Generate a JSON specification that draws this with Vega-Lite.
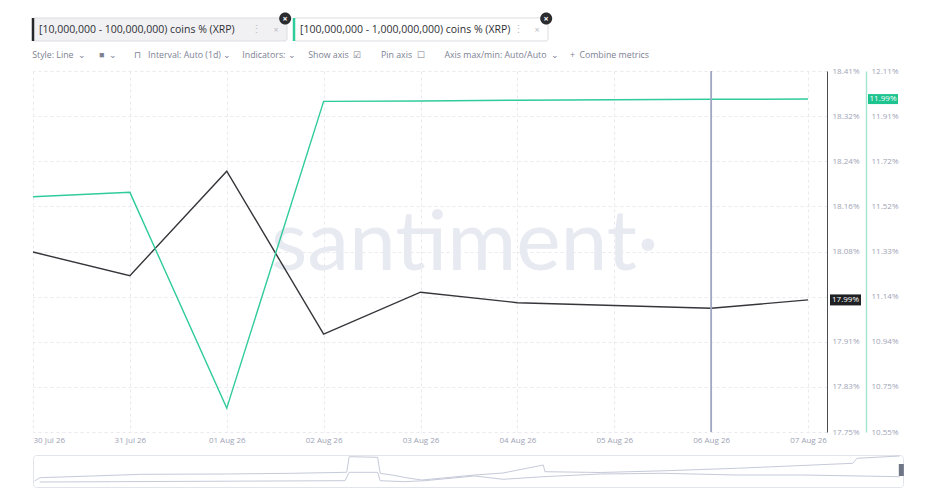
{
  "$schema": "https://vega.github.io/schema/vega-lite/v6.json",
  "padding": {"left": 30, "top": 12, "right": 0, "bottom": 0},
  "background": "#ffffff",
  "config": {
    "font": "Open Sans",
    "view": {"stroke": null},
    "concat": {"spacing": 8}
  },
  "datasets": {
    "daily": [
      {"date": "2026-07-30", "metric": "[10,000,000 - 100,000,000) coins % (XRP)", "value": 18.077},
      {"date": "2026-07-31", "metric": "[10,000,000 - 100,000,000) coins % (XRP)", "value": 18.034},
      {"date": "2026-08-01", "metric": "[10,000,000 - 100,000,000) coins % (XRP)", "value": 18.224},
      {"date": "2026-08-02", "metric": "[10,000,000 - 100,000,000) coins % (XRP)", "value": 17.928},
      {"date": "2026-08-03", "metric": "[10,000,000 - 100,000,000) coins % (XRP)", "value": 18.004},
      {"date": "2026-08-04", "metric": "[10,000,000 - 100,000,000) coins % (XRP)", "value": 17.985},
      {"date": "2026-08-05", "metric": "[10,000,000 - 100,000,000) coins % (XRP)", "value": 17.98},
      {"date": "2026-08-06", "metric": "[10,000,000 - 100,000,000) coins % (XRP)", "value": 17.975},
      {"date": "2026-08-07", "metric": "[10,000,000 - 100,000,000) coins % (XRP)", "value": 17.99},
      {"date": "2026-07-30", "metric": "[100,000,000 - 1,000,000,000) coins % (XRP)", "value": 11.566},
      {"date": "2026-07-31", "metric": "[100,000,000 - 1,000,000,000) coins % (XRP)", "value": 11.585},
      {"date": "2026-08-01", "metric": "[100,000,000 - 1,000,000,000) coins % (XRP)", "value": 10.655},
      {"date": "2026-08-02", "metric": "[100,000,000 - 1,000,000,000) coins % (XRP)", "value": 11.977},
      {"date": "2026-08-03", "metric": "[100,000,000 - 1,000,000,000) coins % (XRP)", "value": 11.979},
      {"date": "2026-08-04", "metric": "[100,000,000 - 1,000,000,000) coins % (XRP)", "value": 11.982},
      {"date": "2026-08-05", "metric": "[100,000,000 - 1,000,000,000) coins % (XRP)", "value": 11.984},
      {"date": "2026-08-06", "metric": "[100,000,000 - 1,000,000,000) coins % (XRP)", "value": 11.986},
      {"date": "2026-08-07", "metric": "[100,000,000 - 1,000,000,000) coins % (XRP)", "value": 11.987}
    ],
    "overview": [
      {"metric": "[100,000,000 - 1,000,000,000) coins % (XRP)", "week": 0.2, "level": 6},
      {"metric": "[100,000,000 - 1,000,000,000) coins % (XRP)", "week": 0.8, "level": 9.3},
      {"metric": "[100,000,000 - 1,000,000,000) coins % (XRP)", "week": 7.0, "level": 11},
      {"metric": "[100,000,000 - 1,000,000,000) coins % (XRP)", "week": 13.0, "level": 12.7},
      {"metric": "[100,000,000 - 1,000,000,000) coins % (XRP)", "week": 22.9, "level": 13},
      {"metric": "[100,000,000 - 1,000,000,000) coins % (XRP)", "week": 31.0, "level": 13.7},
      {"metric": "[100,000,000 - 1,000,000,000) coins % (XRP)", "week": 37.5, "level": 14.7},
      {"metric": "[100,000,000 - 1,000,000,000) coins % (XRP)", "week": 37.8, "level": 30.3},
      {"metric": "[100,000,000 - 1,000,000,000) coins % (XRP)", "week": 41.2, "level": 29.7},
      {"metric": "[100,000,000 - 1,000,000,000) coins % (XRP)", "week": 41.5, "level": 13.7},
      {"metric": "[100,000,000 - 1,000,000,000) coins % (XRP)", "week": 42.9, "level": 12},
      {"metric": "[100,000,000 - 1,000,000,000) coins % (XRP)", "week": 44.8, "level": 9},
      {"metric": "[100,000,000 - 1,000,000,000) coins % (XRP)", "week": 46.5, "level": 7},
      {"metric": "[100,000,000 - 1,000,000,000) coins % (XRP)", "week": 52.8, "level": 12},
      {"metric": "[100,000,000 - 1,000,000,000) coins % (XRP)", "week": 56.2, "level": 14},
      {"metric": "[100,000,000 - 1,000,000,000) coins % (XRP)", "week": 61.0, "level": 22},
      {"metric": "[100,000,000 - 1,000,000,000) coins % (XRP)", "week": 61.2, "level": 15.3},
      {"metric": "[100,000,000 - 1,000,000,000) coins % (XRP)", "week": 67.8, "level": 14.5},
      {"metric": "[100,000,000 - 1,000,000,000) coins % (XRP)", "week": 75.8, "level": 16.3},
      {"metric": "[100,000,000 - 1,000,000,000) coins % (XRP)", "week": 84.1, "level": 18.7},
      {"metric": "[100,000,000 - 1,000,000,000) coins % (XRP)", "week": 98.0, "level": 23.7},
      {"metric": "[100,000,000 - 1,000,000,000) coins % (XRP)", "week": 98.5, "level": 28.7},
      {"metric": "[100,000,000 - 1,000,000,000) coins % (XRP)", "week": 103.6, "level": 31},
      {"metric": "[10,000,000 - 100,000,000) coins % (XRP)", "week": 0.8, "level": 5},
      {"metric": "[10,000,000 - 100,000,000) coins % (XRP)", "week": 9.4, "level": 5.3},
      {"metric": "[10,000,000 - 100,000,000) coins % (XRP)", "week": 37.3, "level": 6.3},
      {"metric": "[10,000,000 - 100,000,000) coins % (XRP)", "week": 37.8, "level": 14.7},
      {"metric": "[10,000,000 - 100,000,000) coins % (XRP)", "week": 41.2, "level": 14.7},
      {"metric": "[10,000,000 - 100,000,000) coins % (XRP)", "week": 41.5, "level": 6.3},
      {"metric": "[10,000,000 - 100,000,000) coins % (XRP)", "week": 44.4, "level": 5.3},
      {"metric": "[10,000,000 - 100,000,000) coins % (XRP)", "week": 46.8, "level": 6.3},
      {"metric": "[10,000,000 - 100,000,000) coins % (XRP)", "week": 52.8, "level": 11},
      {"metric": "[10,000,000 - 100,000,000) coins % (XRP)", "week": 56.2, "level": 7.7},
      {"metric": "[10,000,000 - 100,000,000) coins % (XRP)", "week": 61.0, "level": 10.3},
      {"metric": "[10,000,000 - 100,000,000) coins % (XRP)", "week": 67.8, "level": 13},
      {"metric": "[10,000,000 - 100,000,000) coins % (XRP)", "week": 75.3, "level": 13.7},
      {"metric": "[10,000,000 - 100,000,000) coins % (XRP)", "week": 84.1, "level": 12},
      {"metric": "[10,000,000 - 100,000,000) coins % (XRP)", "week": 92.0, "level": 12},
      {"metric": "[10,000,000 - 100,000,000) coins % (XRP)", "week": 103.6, "level": 10.3}
    ]
  },
  "vconcat": [
    {
      "width": 515,
      "height": 23,
      "data": {"name": "daily"},
      "transform": [{"aggregate": [{"op": "count", "as": "days"}], "groupby": ["metric"]}],
      "encoding": {
        "x": {
          "field": "metric",
          "type": "nominal",
          "scale": {
            "domain": ["[10,000,000 - 100,000,000) coins % (XRP)", "[100,000,000 - 1,000,000,000) coins % (XRP)"],
            "paddingInner": 0.027,
            "paddingOuter": 0
          },
          "axis": null
        }
      },
      "layer": [
        {
          "mark": {"type": "rect", "stroke": "#dcdde2", "strokeWidth": 1, "cornerRadius": 2},
          "encoding": {
            "fill": {
              "condition": {"test": "datum.metric === '[10,000,000 - 100,000,000) coins % (XRP)'", "value": "#f1f1f3"},
              "value": "#ffffff"
            }
          }
        },
        {
          "mark": {"type": "rule", "strokeWidth": 2.5},
          "encoding": {
            "x": {"field": "metric", "type": "nominal", "bandPosition": 0},
            "color": {
              "field": "metric",
              "type": "nominal",
              "scale": {
                "domain": ["[10,000,000 - 100,000,000) coins % (XRP)", "[100,000,000 - 1,000,000,000) coins % (XRP)"],
                "range": ["#26272b", "#2fcb9b"]
              },
              "legend": null
            }
          }
        },
        {
          "mark": {"type": "text", "align": "left", "baseline": "middle", "dx": 6, "fontSize": 10.5, "color": "#2f3036"},
          "encoding": {
            "x": {"field": "metric", "type": "nominal", "bandPosition": 0},
            "text": {"field": "metric"}
          }
        },
        {
          "mark": {"type": "text", "align": "center", "baseline": "middle", "dx": -30, "fontSize": 11, "color": "#b9bcc6", "text": "⋮"},
          "encoding": {"x": {"field": "metric", "type": "nominal", "bandPosition": 1}}
        },
        {
          "mark": {"type": "text", "align": "center", "baseline": "middle", "dx": -11, "fontSize": 9, "color": "#b9bcc6", "text": "×"},
          "encoding": {"x": {"field": "metric", "type": "nominal", "bandPosition": 1}}
        },
        {
          "mark": {
            "type": "point",
            "filled": true,
            "opacity": 1,
            "size": 144,
            "shape": "M-1.3,-1.85A1,1 0 1,0 0.7,-1.85A1,1 0 1,0 -1.3,-1.85Z",
            "color": "#2b2c30"
          },
          "encoding": {"x": {"field": "metric", "type": "nominal", "bandPosition": 1}}
        },
        {
          "mark": {"type": "text", "align": "center", "baseline": "middle", "dx": -2, "dy": -11, "fontSize": 9, "fontWeight": "bold", "color": "#ffffff", "text": "×"},
          "encoding": {"x": {"field": "metric", "type": "nominal", "bandPosition": 1}}
        }
      ]
    },
    {
      "width": 794,
      "height": 361,
      "title": {
        "text": "Style: Line\u2002⌄\u2003\u2002■\u2002⌄\u2003\u2003⊓\u2002 Interval: Auto (1d) ⌄\u2003 Indicators: ⌄\u2003 \u2009Show axis\u2002☑\u2003\u2003 Pin axis\u2002☐\u2003\u2003 Axis max/min: Auto/Auto\u2002⌄\u2003 +\u2002Combine metrics",
        "anchor": "start",
        "dx": 2,
        "fontSize": 8.8,
        "fontWeight": "normal",
        "color": "#7c8293",
        "offset": 7
      },
      "layer": [
        {
          "layer": [
            {
              "data": {"values": [{"brand": "santiment·"}]},
              "mark": {"type": "text", "font": "Lato", "fontSize": 84, "color": "#e8eaf2", "align": "center", "baseline": "alphabetic"},
              "encoding": {
                "x": {"datum": {"year": 2026, "month": 8, "date": 3, "hours": 11, "utc": true}, "type": "temporal"},
                "y": {"datum": 18.044, "type": "quantitative"},
                "text": {"field": "brand"}
              }
            },
            {
              "data": {"name": "daily"},
              "transform": [{"filter": {"field": "metric", "equal": "[10,000,000 - 100,000,000) coins % (XRP)"}}],
              "mark": {"type": "line", "strokeWidth": 1.4, "color": "#35363a"},
              "encoding": {
                "x": {
                  "field": "date",
                  "type": "temporal",
                  "scale": {
                    "type": "utc",
                    "nice": false,
                    "domain": [
                      {"year": 2026, "month": 7, "date": 30, "utc": true},
                      {"year": 2026, "month": 8, "date": 7, "hours": 4, "minutes": 42, "utc": true}
                    ]
                  },
                  "axis": {
                    "title": null,
                    "values": [
                      {"year": 2026, "month": 7, "date": 30, "utc": true},
                      {"year": 2026, "month": 7, "date": 31, "utc": true},
                      {"year": 2026, "month": 8, "date": 1, "utc": true},
                      {"year": 2026, "month": 8, "date": 2, "utc": true},
                      {"year": 2026, "month": 8, "date": 3, "utc": true},
                      {"year": 2026, "month": 8, "date": 4, "utc": true},
                      {"year": 2026, "month": 8, "date": 5, "utc": true},
                      {"year": 2026, "month": 8, "date": 6, "utc": true},
                      {"year": 2026, "month": 8, "date": 7, "utc": true}
                    ],
                    "labelExpr": "utcFormat(datum.value, '%d %b %y')",
                    "labelFlush": true,
                    "labelColor": "#9ea3b5",
                    "labelFontSize": 8,
                    "labelPadding": 4,
                    "minExtent": 13,
                    "ticks": false,
                    "domain": false,
                    "grid": true,
                    "gridColor": "#e9e9ee",
                    "gridDash": [3, 3]
                  }
                },
                "y": {
                  "field": "value",
                  "type": "quantitative",
                  "scale": {"domain": [17.75, 18.406], "nice": false, "zero": false},
                  "axis": {
                    "title": null,
                    "orient": "right",
                    "values": [17.75, 17.832, 17.914, 17.996, 18.078, 18.16, 18.242, 18.324, 18.406],
                    "labelExpr": "abs(datum.value - 17.996) < 0.001 ? '' : format(datum.value, '.2f') + '%'",
                    "labelColor": "#9ea3b5",
                    "labelFontSize": 8,
                    "labelPadding": 5,
                    "ticks": false,
                    "domainColor": "#4b4c50",
                    "grid": true,
                    "gridColor": "#e9e9ee",
                    "gridDash": [3, 3]
                  }
                }
              }
            },
            {
              "data": {"name": "daily"},
              "transform": [
                {"filter": {"field": "metric", "equal": "[10,000,000 - 100,000,000) coins % (XRP)"}},
                {"window": [{"op": "row_number", "as": "recency"}], "sort": [{"field": "date", "order": "descending"}]},
                {"filter": "datum.recency === 1"}
              ],
              "mark": {"type": "point", "filled": true, "opacity": 1, "size": 400, "shape": "M0.3,-0.55H3.4V0.55H0.3Z", "color": "#1f2023"},
              "encoding": {
                "x": {"datum": {"year": 2026, "month": 8, "date": 7, "hours": 4, "minutes": 42, "utc": true}, "type": "temporal"},
                "y": {"field": "value", "type": "quantitative"}
              }
            },
            {
              "data": {"name": "daily"},
              "transform": [
                {"filter": {"field": "metric", "equal": "[10,000,000 - 100,000,000) coins % (XRP)"}},
                {"window": [{"op": "row_number", "as": "recency"}], "sort": [{"field": "date", "order": "descending"}]},
                {"filter": "datum.recency === 1"}
              ],
              "mark": {"type": "text", "align": "center", "baseline": "middle", "dx": 18.5, "fontSize": 8, "color": "#ffffff", "text": {"expr": "format(datum.value, '.2f') + '%'"}},
              "encoding": {
                "x": {"datum": {"year": 2026, "month": 8, "date": 7, "hours": 4, "minutes": 42, "utc": true}, "type": "temporal"},
                "y": {"field": "value", "type": "quantitative"}
              }
            }
          ]
        },
        {
          "layer": [
            {
              "data": {"name": "daily"},
              "transform": [{"filter": {"field": "metric", "equal": "[100,000,000 - 1,000,000,000) coins % (XRP)"}}],
              "mark": {"type": "line", "strokeWidth": 1.4, "color": "#2fcb9b"},
              "encoding": {
                "x": {"field": "date", "type": "temporal"},
                "y": {
                  "field": "value",
                  "type": "quantitative",
                  "scale": {"domain": [10.552, 12.108], "nice": false, "zero": false},
                  "axis": {
                    "title": null,
                    "orient": "right",
                    "offset": 39,
                    "values": [10.552, 10.7465, 10.941, 11.1355, 11.33, 11.5245, 11.719, 11.9135, 12.108],
                    "labelExpr": "format(datum.value, '.2f') + '%'",
                    "labelColor": "#9ea3b5",
                    "labelFontSize": 8,
                    "labelPadding": 5,
                    "ticks": false,
                    "domainColor": "#a6e6d1",
                    "domainWidth": 1.5,
                    "grid": false
                  }
                }
              }
            },
            {
              "data": {"name": "daily"},
              "transform": [
                {"filter": {"field": "metric", "equal": "[100,000,000 - 1,000,000,000) coins % (XRP)"}},
                {"window": [{"op": "row_number", "as": "recency"}], "sort": [{"field": "date", "order": "descending"}]},
                {"filter": "datum.recency === 1"}
              ],
              "mark": {"type": "point", "filled": true, "opacity": 1, "size": 400, "shape": "M4.1,-0.5H7.1V0.5H4.1Z", "color": "#1ec48f"},
              "encoding": {
                "x": {"datum": {"year": 2026, "month": 8, "date": 7, "hours": 4, "minutes": 42, "utc": true}, "type": "temporal"},
                "y": {"field": "value", "type": "quantitative"}
              }
            },
            {
              "data": {"name": "daily"},
              "transform": [
                {"filter": {"field": "metric", "equal": "[100,000,000 - 1,000,000,000) coins % (XRP)"}},
                {"window": [{"op": "row_number", "as": "recency"}], "sort": [{"field": "date", "order": "descending"}]},
                {"filter": "datum.recency === 1"}
              ],
              "mark": {"type": "text", "align": "center", "baseline": "middle", "dx": 56, "fontSize": 8, "color": "#ffffff", "text": {"expr": "format(datum.value, '.2f') + '%'"}},
              "encoding": {
                "x": {"datum": {"year": 2026, "month": 8, "date": 7, "hours": 4, "minutes": 42, "utc": true}, "type": "temporal"},
                "y": {"field": "value", "type": "quantitative"}
              }
            },
            {
              "data": {"values": [{"date": "2026-08-06"}]},
              "mark": {"type": "rule", "color": "#9ea6c4", "strokeWidth": 1.8},
              "encoding": {"x": {"field": "date", "type": "temporal"}}
            }
          ]
        }
      ],
      "resolve": {"scale": {"y": "independent"}}
    },
    {
      "width": 870,
      "height": 32,
      "view": {"stroke": "#e2e4eb", "cornerRadius": 3},
      "layer": [
        {
          "data": {"name": "overview"},
          "mark": {"type": "line", "strokeWidth": 1, "color": "#c6cad9"},
          "encoding": {
            "x": {"field": "week", "type": "quantitative", "scale": {"domain": [0, 104], "nice": false}, "axis": null},
            "y": {"field": "level", "type": "quantitative", "scale": {"domain": [0, 32], "nice": false}, "axis": null},
            "detail": {"field": "metric"}
          }
        },
        {
          "data": {"values": [{"week": 103.8, "level": 17}]},
          "mark": {"type": "point", "filled": true, "opacity": 1, "size": 144, "shape": "M-0.42,-1H0.42V1H-0.42Z", "color": "#6f7686"},
          "encoding": {
            "x": {"field": "week", "type": "quantitative"},
            "y": {"field": "level", "type": "quantitative"}
          }
        }
      ]
    }
  ]
}
